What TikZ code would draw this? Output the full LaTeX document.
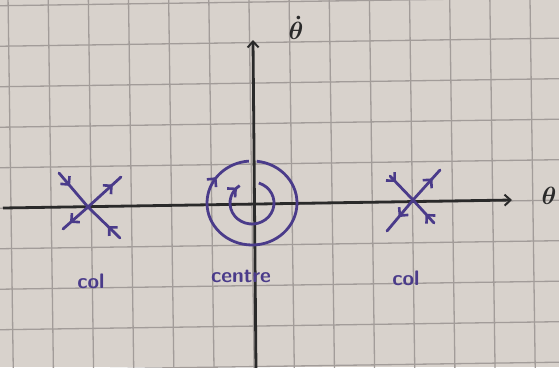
\documentclass[tikz,border=0pt]{standalone}
\usetikzlibrary{arrows.meta,decorations.markings,calc}
\definecolor{paper}{HTML}{D8D2CC}
\definecolor{gridc}{HTML}{A29C99}
\definecolor{ink}{HTML}{4A3B8A}
\definecolor{axisc}{HTML}{2A2A2A}
\tikzset{
  gridline/.style={gridc, line width=1.3pt},
  axisline/.style={axisc, line width=2.8pt, -{Straight Barb[length=6pt,width=11pt,line width=2pt]}},
  arm/.style={ink, line width=2.8pt, line cap=round},
  outw/.style={arm, postaction={decorate}, decoration={markings, mark=at position #1 with {\arrow{Straight Barb[length=6pt,width=12pt,line width=2.6pt]}}}},
  outw/.default=0.7,
  inw/.style={arm, postaction={decorate}, decoration={markings, mark=at position #1 with {\arrowreversed{Straight Barb[length=6pt,width=12pt,line width=2.6pt]}}}},
  inw/.default=0.7,
  orbit/.style={ink, line width=2.8pt, postaction={decorate}, decoration={markings, mark=at position #1 with {\arrow{Straight Barb[length=6pt,width=12pt,line width=2.6pt]}}}},
  lbl/.style={ink, font=\fontsize{21}{21}\selectfont\sffamily\bfseries},
  axlbl/.style={axisc, font=\fontsize{26}{26}\selectfont\boldmath}
}
\begin{document}
\begin{tikzpicture}[x=1pt,y=-1pt]
\fill[paper] (0,0) rectangle (559,367);
\useasboundingbox (0,0) rectangle (559,367);
% grid
\foreach \y in {5.8,46.3,86.8,127.3,167.8,208.3,248.8,289.3,329.8,370.3}
  \draw[gridline] (-5,\y) -- (565,\y-8.2);
\foreach \k in {0,...,13}
  \draw[gridline] ({8+40.15*\k},-5) -- ({13.3+40.15*\k},372);
% axes
\coordinate (xs) at (3,208);
\coordinate (xe) at (512,200);
\coordinate (ys) at (256,370);
\coordinate (ye) at (253,40);
\draw[axisline] (xs) -- (xe);
\draw[axisline] (ys) -- (ye);
\node[axlbl] (thlab) at (549,196) {$\theta$};
\node[axlbl] (thdlab) at (296,28) {$\dot\theta$};
% left col
\coordinate (L) at (88,207);
\coordinate (Lul) at (59,173);
\coordinate (Lur) at (121,177);
\coordinate (Lll) at (63,229);
\coordinate (Llr) at (120,238);
\draw[inw=0.62] (L) -- (Lul);
\draw[outw=0.75] (L) -- (Lur);
\draw[outw=0.72] (L) -- (Lll);
\draw[inw=0.62] (L) -- (Llr);
% right col
\coordinate (R) at (413,200);
\coordinate (Rul) at (390,176);
\coordinate (Rur) at (440,170);
\coordinate (Rll) at (387,231);
\coordinate (Rlr) at (434,223);
\draw[inw=0.75] (R) -- (Rul);
\draw[outw=0.72] (R) -- (Rur);
\draw[outw=0.55] (R) -- (Rll);
\draw[inw=0.6] (R) -- (Rlr);
% centre
\coordinate (C) at (252,203);
\draw[orbit=0.86] ($(C)+(-84:45 and 42)$) arc[start angle=-84, end angle=266, x radius=45, y radius=42];
\draw[orbit=0.97] ($(C)+(-72:22 and 21)$) arc[start angle=-72, end angle=236, x radius=22, y radius=21];
% labels
\node[lbl] (col1) at (91,281) {col};
\node[lbl] (centre) at (241,276) {centre};
\node[lbl] (col2) at (406,278) {col};
\end{tikzpicture}
\end{document}
